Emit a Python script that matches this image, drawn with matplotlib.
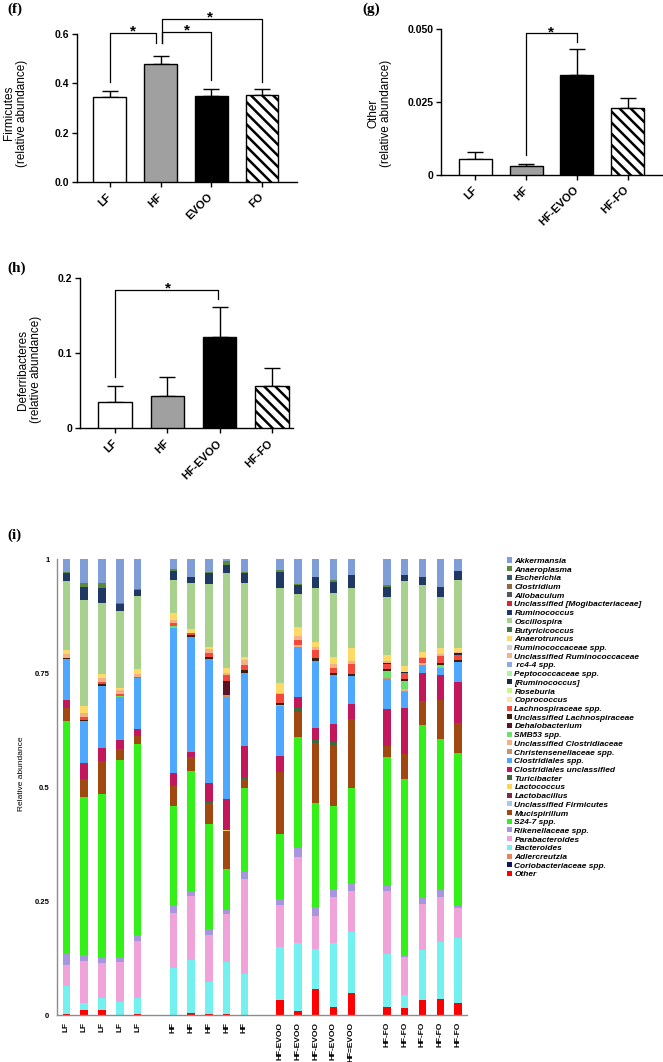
import matplotlib
matplotlib.use("Agg")
import matplotlib.pyplot as plt
from matplotlib.patches import Patch
import numpy as np

plt.rcParams['font.family'] = ['Liberation Sans', 'DejaVu Sans']
plt.rcParams['font.weight'] = 'bold'
plt.rcParams['hatch.linewidth'] = 1.8

W, H = 663, 1062

# ---- (f) Firmicutes ----
groups_f = ['LF', 'HF', 'EVOO', 'FO']
firmicutes = [0.343, 0.477, 0.347, 0.353]
firmicutes_sem = [0.027, 0.034, 0.029, 0.024]

# ---- (g) Other ----
groups_g = ['LF', 'HF', 'HF-EVOO', 'HF-FO']
other_mean = [0.0055, 0.0030, 0.0342, 0.0228]
other_sem = [0.0025, 0.0009, 0.0091, 0.0037]

# ---- (h) Deferribacteres ----
groups_h = ['LF', 'HF', 'HF-EVOO', 'HF-FO']
deferri = [0.035, 0.043, 0.122, 0.056]
deferri_sem = [0.022, 0.025, 0.040, 0.025]

# ---- (i) per-sample relative abundance ----
samples = ['LF'] * 5 + ['HF'] * 5 + ['HF-EVOO'] * 4 + ['HF=EVOO'] + ['HF-FO'] * 5

other = [.003, .010, .010, .001, .002, 0, .005, .003, .003, 0,
         .033, .009, .056, .018, .049, .018, .015, .033, .035, .026]
bacteroides = [.061, .016, .028, .028, .036, .104, .116, .069, .113, .091,
               .117, .148, .089, .139, .134, .116, .029, .110, .126, .142]
parabacteroides = [.046, .092, .075, .087, .125, .120, .140, .103, .105, .207,
                   .091, .189, .073, .102, .090, .139, .084, .100, .098, .066]
rikenellaceae = [.024, .013, .013, .011, .012, .015, .009, .013, .009, .017,
                 .013, .021, .018, .015, .014, .010, .004, .014, .015, .005]
s24_7 = [.511, .348, .359, .432, .420, .219, .265, .231, .090, .182,
         .142, .242, .228, .185, .210, .283, .385, .379, .331, .335]
mucispirillum = [.029, .038, .071, .025, .017, .044, .030, .047, .084, .021,
                 .136, .055, .132, .134, .153, .025, .055, .053, .086, .066]
lactococcus = [0, 0, 0, 0, 0, 0, 0, 0, .002, 0,
               0, 0, 0, 0, 0, 0, 0, 0, 0, 0]
turicibacter = [0, 0, 0, 0, 0, 0, 0, .004, 0, .003,
                0, .009, .006, .006, 0, 0, 0, 0, 0, 0]
clost_uncl = [.016, .035, .029, .018, .015, .028, .012, .038, .068, .070,
              .036, .025, .028, .039, .031, .081, .101, .060, .055, .091]
clost_spp = [.090, .092, .137, .096, .111, .319, .253, .272, .224, .160,
             .110, .108, .147, .107, .062, .064, .036, .019, .014, .044]
christensen = [0, 0, 0, 0, 0, 0, 0, 0, .003, 0,
               0, 0, 0, 0, 0, .002, .002, 0, 0, 0]
uncl_clostridiaceae = [0, 0, 0, 0, 0, 0, 0, 0, 0, 0,
                       0, .005, 0, 0, 0, 0, .004, .003, 0, 0]
smb53 = [0, 0, 0, .002, 0, .003, 0, 0, 0, 0,
         .002, 0, 0, 0, 0, .017, .018, 0, .008, 0]
dehalobacterium = [0, 0, 0, 0, 0, 0, 0, 0, .029, 0,
                   0, 0, 0, 0, 0, 0, 0, 0, 0, 0]
uncl_lachno = [.003, .003, .003, 0, 0, 0, .004, .004, .003, .005,
               .004, 0, .005, .004, .004, .004, .003, 0, .004, .004]
lachno_spp = [0, .006, .005, .005, .004, .008, .004, .010, .012, .012,
              .020, .012, .018, .013, .022, .010, .014, .011, .016, .010]
rumino_bracket = [0, 0, 0, 0, 0, 0, 0, 0, 0, 0,
                  0, 0, 0, 0, 0, .004, .002, 0, 0, .004]
uncl_rumino = [.008, .010, .010, .008, .005, .006, 0, .008, .005, .010,
               .003, .008, .007, .008, .008, .004, 0, .004, .004, .004]
anaerotruncus = [.009, .015, .008, .004, .012, .015, .008, .004, .010, .008,
                 .022, .019, .012, .016, .027, .012, .014, .009, .012, .008]
oscillospira = [.152, .232, .156, .169, .160, .073, .102, .139, .209, .161,
                .208, .073, .117, .140, .133, .128, .186, .149, .113, .149]
ruminococcus = [.017, .028, .032, .015, .013, .020, .012, .025, .018, .022,
                .035, .020, .024, .024, .027, .021, .012, .017, .022, .020]
anaeroplasma = [.003, .010, .012, .002, .002, .003, 0, .002, .009, .002,
                .003, .002, 0, .005, 0, .004, 0, 0, 0, 0]
akkermansia = [.028, .052, .052, .097, .066, .023, .040, .028, .004, .029,
               .025, .055, .040, .045, .036, .058, .036, .039, .061, .026]

taxa = ['Akkermansia', 'Anaeroplasma', 'Escherichia', 'Clostridium', 'Allobaculum',
        'Unclassified [Mogibacteriaceae]', 'Ruminococcus', 'Oscillospira',
        'Butyricicoccus', 'Anaerotruncus', 'Ruminococcaceae spp.',
        'Unclassified Ruminococcaceae', ' rc4-4 spp.', 'Peptococcaceae spp.',
        '[Ruminococcus]', 'Roseburia', 'Coprococcus', 'Lachnospiraceae spp.',
        'Unclassified Lachnospiraceae', 'Dehalobacterium', 'SMB53 spp.',
        'Unclassified Clostridiaceae', 'Christensenellaceae spp.',
        'Clostridiales spp.', 'Clostridiales unclassified', 'Turicibacter',
        'Lactococcus', 'Lactobacillus', 'Unclassified Firmicutes', 'Mucispirillum',
        'S24-7 spp.', 'Rikenellaceae spp.', 'Parabacteroides', 'Bacteroides',
        'Adlercreutzia', 'Coriobacteriaceae spp.', 'Other']
taxa_colors = ['#7f9ed8', '#5b8a3a', '#2e5c6e', '#8c6a3c', '#555555',
               '#d4283a', '#1f3864', '#a9d18e', '#3c7a4e', '#ffd966',
               '#d0d0d0', '#f4b183', '#8faadc', '#a9f5a0', '#1b2a3e',
               '#ccf58a', '#ffe699', '#f4483a', '#3d1f10', '#5c1424',
               '#6be36b', '#f4b183', '#c4956a', '#4fa8ff', '#c2185b',
               '#3b6b3b', '#ffd54f', '#7b2a4a', '#a6c8e8', '#a0480f',
               '#33f018', '#a895e0', '#f0a3d8', '#73f0f0', '#e8825a',
               '#15155e', '#ff0000']

abundance = {
    'Akkermansia': akkermansia, 'Anaeroplasma': anaeroplasma,
    'Ruminococcus': ruminococcus, 'Oscillospira': oscillospira,
    'Anaerotruncus': anaerotruncus, 'Unclassified Ruminococcaceae': uncl_rumino,
    '[Ruminococcus]': rumino_bracket, 'Lachnospiraceae spp.': lachno_spp,
    'Unclassified Lachnospiraceae': uncl_lachno, 'Dehalobacterium': dehalobacterium,
    'SMB53 spp.': smb53, 'Unclassified Clostridiaceae': uncl_clostridiaceae,
    'Christensenellaceae spp.': christensen, 'Clostridiales spp.': clost_spp,
    'Clostridiales unclassified': clost_uncl, 'Turicibacter': turicibacter,
    'Lactococcus': lactococcus, 'Mucispirillum': mucispirillum, 'S24-7 spp.': s24_7,
    'Rikenellaceae spp.': rikenellaceae, 'Parabacteroides': parabacteroides,
    'Bacteroides': bacteroides, 'Other': other,
}

bar_faces = ['white', '#a0a0a0', 'black', 'white']
bar_hatches = [None, None, None, '\\\\\\']


def rect(x0, y0, x1, y1):
    return [x0 / W, 1 - y1 / H, (x1 - x0) / W, (y1 - y0) / H]


def bar_panel(ax, labels, means, sem, xlim, ylim, yticks, yticklabels, ylabel, lab_xy):
    x = np.arange(len(labels))
    for i in range(len(labels)):
        ax.bar(x[i], means[i], width=0.65, color=bar_faces[i], edgecolor='black',
               linewidth=1.0, hatch=bar_hatches[i], zorder=3)
    ax.errorbar(x, means, yerr=[np.zeros(len(sem)), sem], fmt='none', ecolor='black',
                elinewidth=1.0, capsize=6, capthick=1.0, zorder=2)
    ax.set_xlim(*xlim)
    ax.set_ylim(*ylim)
    ax.set_yticks(yticks)
    ax.set_yticklabels(yticklabels, fontsize=7.5)
    ax.set_xticks(x)
    ax.set_xticklabels(labels, fontsize=8, rotation=45, ha='right', va='center',
                       rotation_mode='anchor')
    ax.tick_params(direction='out', length=3.6, width=1.0, pad=2)
    ax.tick_params(axis='x', pad=6)
    for s in ['top', 'right']:
        ax.spines[s].set_visible(False)
    for s in ['left', 'bottom']:
        ax.spines[s].set_linewidth(1.0)
    ax.set_ylabel(ylabel, fontsize=8.5, linespacing=1.1)
    ax.yaxis.set_label_coords(*lab_xy)


def bracket(ax, x1, x2, top, b1, b2, star_x):
    ax.plot([x1, x1, x2, x2], [b1, top, top, b2], color='black', lw=0.9,
            clip_on=False, zorder=4)
    ax.annotate('*', xy=(star_x, top), xytext=(0, 1), textcoords='offset points',
                ha='center', va='center', fontsize=11, annotation_clip=False)


fig = plt.figure(figsize=(W / 100, H / 100), dpi=100)

ax_f = fig.add_axes(rect(77, 34, 297, 182))
bar_panel(ax_f, groups_f, firmicutes, firmicutes_sem, (-0.65, 3.69), (0, 0.6),
          [0, 0.2, 0.4, 0.6], ['0.0', '0.2', '0.4', '0.6'],
          'Firmicutes\n(relative abundance)', (-0.223, 0.466))
bracket(ax_f, 0, 0.907, 0.603, 0.405, 0.563, 0.45)
bracket(ax_f, 1.03, 2.0, 0.607, 0.563, 0.413, 1.52)
bracket(ax_f, 1.03, 3.0, 0.661, 0.563, 0.405, 1.97)

ax_g = fig.add_axes(rect(441, 29, 662, 175))
bar_panel(ax_g, groups_g, other_mean, other_sem, (-0.68, 3.68), (0, 0.05),
          [0, 0.025, 0.05], ['0', '0.025', '0.050'],
          'Other\n(relative abundance)', (-0.222, 0.425))
bracket(ax_g, 1.0, 2.0, 0.0485, 0.0068, 0.0457, 1.49)

ax_h = fig.add_axes(rect(80, 278.3, 293, 428.3))
bar_panel(ax_h, groups_h, deferri, deferri_sem, (-0.68, 3.41), (0, 0.2),
          [0, 0.1, 0.2], ['0', '0.1', '0.2'],
          'Deferribacteres\n(relative abundance)', (-0.178, 0.39))
bracket(ax_h, 0, 1.97, 0.185, 0.069, 0.173, 1.0)

# ---- (i) stacked bars ----
ax_i = fig.add_axes(rect(57, 559, 467, 1015))
xpos = np.array([g * 6 + k for g in range(4) for k in range(5)], dtype=float)
bottom = np.zeros(len(samples))
for name, color in zip(taxa[::-1], taxa_colors[::-1]):
    vals = np.array(abundance.get(name, [0] * len(samples)), dtype=float)
    ax_i.bar(xpos, vals, width=0.42, bottom=bottom, color=color, linewidth=0)
    bottom += vals
ax_i.set_xlim(-0.53, 22.5)
ax_i.set_ylim(0, 1)
ax_i.set_yticks([0, 0.25, 0.5, 0.75, 1])
ax_i.set_yticklabels(['0', '0.25', '0.5', '0.75', '1'], fontsize=5.5)
ax_i.set_xticks(xpos)
ax_i.set_xticklabels(samples, rotation=90, fontsize=6)
ax_i.tick_params(axis='y', length=0, pad=5.5)
ax_i.tick_params(axis='x', length=0, pad=5)
for s in ['top', 'right']:
    ax_i.spines[s].set_visible(False)
for s in ['left', 'bottom']:
    ax_i.spines[s].set_color('#8c8c8c')
    ax_i.spines[s].set_linewidth(1.0)
ax_i.set_ylabel('Relative abundance', fontsize=6)
ax_i.yaxis.set_label_coords(-0.078, 0.528)

handles = [Patch(facecolor=c, edgecolor='none', label=n)
           for n, c in zip(taxa, taxa_colors)]
fig.legend(handles=handles, loc='upper left', bbox_to_anchor=(507 / W, 1 - 557.5 / H),
           frameon=False, borderpad=0, borderaxespad=0, handlelength=0.55,
           handleheight=0.55, handletextpad=0.35, labelspacing=0.15,
           prop={'size': 6, 'style': 'italic', 'weight': 'bold'})

# panel letters
for letter, px, py in [('(f)', 7, 3), ('(g)', 362, 3), ('(h)', 7, 262), ('(i)', 7, 529)]:
    fig.text(px / W, 1 - py / H, letter, family=['Liberation Serif'], weight='bold',
             fontsize=11, ha='left', va='top')

fig.savefig('out.png', dpi=100)
